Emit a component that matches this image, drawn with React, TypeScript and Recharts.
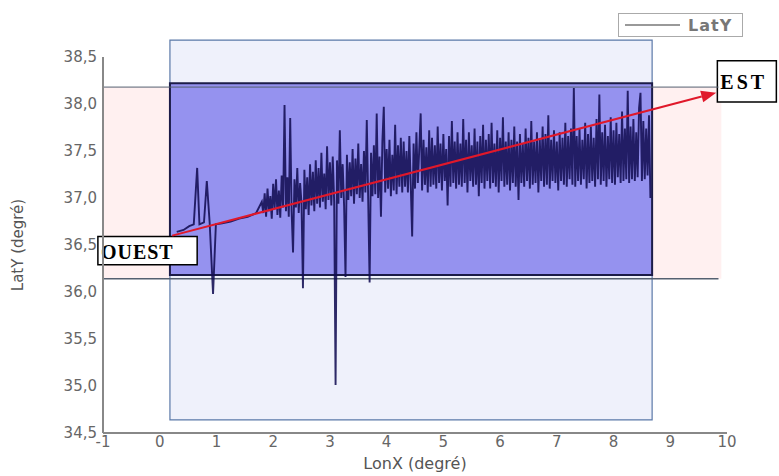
import { Line, LineChart, ReferenceArea, ReferenceLine, XAxis, YAxis } from "recharts";

const lonX = [
  0.3, 0.42, 0.52, 0.6, 0.66, 0.7, 0.78, 0.83, 0.88, 0.94, 0.99, 1.1, 1.25, 1.4, 1.55, 1.7,
  1.8, 1.825, 1.85, 1.875, 1.9, 1.925, 1.95, 1.975, 2.0, 2.025, 2.05, 2.075, 2.1, 2.125, 2.15, 2.175, 2.2, 2.225, 2.25, 2.275,
  2.3, 2.325, 2.35, 2.375, 2.4, 2.425, 2.45, 2.475, 2.5, 2.525, 2.55, 2.575, 2.6, 2.625, 2.65, 2.675, 2.7, 2.725, 2.75, 2.775,
  2.8, 2.825, 2.85, 2.875, 2.9, 2.925, 2.95, 2.975, 3.0, 3.025, 3.05, 3.075, 3.1, 3.125, 3.15, 3.175, 3.2, 3.225, 3.25, 3.275,
  3.3, 3.325, 3.35, 3.375, 3.4, 3.425, 3.45, 3.475, 3.5, 3.525, 3.55, 3.575, 3.6, 3.625, 3.65, 3.675, 3.7, 3.725, 3.75, 3.775,
  3.8, 3.825, 3.85, 3.875, 3.9, 3.925, 3.95, 3.975, 4.0, 4.025, 4.05, 4.075, 4.1, 4.125, 4.15, 4.175, 4.2, 4.225, 4.25, 4.275,
  4.3, 4.325, 4.35, 4.375, 4.4, 4.425, 4.45, 4.475, 4.5, 4.525, 4.55, 4.575, 4.6, 4.625, 4.65, 4.675, 4.7, 4.725, 4.75, 4.775,
  4.8, 4.825, 4.85, 4.875, 4.9, 4.925, 4.95, 4.975, 5.0, 5.025, 5.05, 5.075, 5.1, 5.125, 5.15, 5.175, 5.2, 5.225, 5.25, 5.275,
  5.3, 5.325, 5.35, 5.375, 5.4, 5.425, 5.45, 5.475, 5.5, 5.525, 5.55, 5.575, 5.6, 5.625, 5.65, 5.675, 5.7, 5.725, 5.75, 5.775,
  5.8, 5.825, 5.85, 5.875, 5.9, 5.925, 5.95, 5.975, 6.0, 6.025, 6.05, 6.075, 6.1, 6.125, 6.15, 6.175, 6.2, 6.225, 6.25, 6.275,
  6.3, 6.325, 6.35, 6.375, 6.4, 6.425, 6.45, 6.475, 6.5, 6.525, 6.55, 6.575, 6.6, 6.625, 6.65, 6.675, 6.7, 6.725, 6.75, 6.775,
  6.8, 6.825, 6.85, 6.875, 6.9, 6.925, 6.95, 6.975, 7.0, 7.025, 7.05, 7.075, 7.1, 7.125, 7.15, 7.175, 7.2, 7.225, 7.25, 7.275,
  7.3, 7.325, 7.35, 7.375, 7.4, 7.425, 7.45, 7.475, 7.5, 7.525, 7.55, 7.575, 7.6, 7.625, 7.65, 7.675, 7.7, 7.725, 7.75, 7.775,
  7.8, 7.825, 7.85, 7.875, 7.9, 7.925, 7.95, 7.975, 8.0, 8.025, 8.05, 8.075, 8.1, 8.125, 8.15, 8.175, 8.2, 8.225, 8.25, 8.275,
  8.3, 8.325, 8.35, 8.375, 8.4, 8.425, 8.45, 8.475, 8.5, 8.525, 8.55, 8.575, 8.6, 8.625, 8.65,
];

const latY = [
  36.64, 36.66, 36.7, 36.72, 37.32, 36.72, 36.74, 37.18, 36.74, 35.98, 36.72, 36.73, 36.75, 36.78, 36.8, 36.84,
  36.96, 36.84, 37.05, 36.8, 37.1, 36.86, 37.02, 36.78, 37.15, 36.88, 37.2, 36.82, 37.08, 36.79, 37.24, 36.9, 37.99, 36.86, 37.22, 36.8,
  37.85, 36.86, 36.42, 37.2, 36.9, 37.32, 36.84, 37.16, 36.94, 36.04, 37.3, 36.88, 37.22, 36.82, 37.36, 36.92, 37.28, 36.86, 37.4, 36.94,
  37.32, 36.9, 37.48, 36.96, 37.26, 36.88, 37.55, 36.98, 37.38, 36.92, 37.44, 36.96, 35.01, 37.4, 36.94, 37.72, 37.0, 37.36, 36.92, 36.16,
  37.46, 36.98, 37.38, 37.02, 37.52, 36.94, 37.42, 37.04, 37.58, 37.0, 37.36, 36.96, 37.5, 37.06, 37.83, 36.98, 36.1, 37.48, 37.02, 37.56,
  37.04, 37.9, 37.0, 37.44, 36.8, 37.6, 37.97, 37.06, 37.52, 37.1, 37.62, 37.02, 37.46, 37.08, 37.78, 37.04, 37.56, 37.12, 37.64, 37.06,
  37.6, 37.12, 37.5, 37.06, 37.66, 37.14, 36.59, 37.58, 37.1, 37.7, 37.16, 37.52, 37.9, 37.08, 37.62, 37.14, 37.54, 37.06, 37.72, 37.12,
  37.64, 37.14, 37.56, 37.1, 37.76, 37.16, 37.58, 37.08, 37.68, 37.18, 37.52, 36.92, 37.66, 37.12, 37.82, 37.16, 37.6, 37.1, 37.7, 37.14,
  37.58, 37.12, 37.84, 37.16, 37.62, 37.06, 37.7, 37.18, 37.56, 37.12, 37.74, 37.14, 37.6, 37.02, 37.66, 37.16, 37.78, 37.1, 37.62, 37.18,
  37.68, 37.1, 37.8, 37.16, 37.58, 37.12, 37.72, 37.06, 37.64, 37.18, 37.86, 37.12, 37.6, 37.14, 37.7, 37.08, 37.62, 37.16, 37.76, 37.12,
  37.6, 36.98, 37.68, 37.16, 37.58, 37.12, 37.74, 37.18, 37.64, 37.1, 37.82, 37.14, 37.6, 37.16, 37.7, 37.06, 37.62, 37.18, 37.76, 37.12,
  37.68, 37.14, 37.88, 37.1, 37.62, 37.18, 37.72, 37.16, 37.6, 37.08, 37.7, 37.18, 37.64, 37.14, 37.8, 37.12, 37.66, 37.2, 37.74, 37.14,
  38.17, 37.12, 37.66, 37.18, 37.74, 37.14, 37.62, 37.2, 37.8, 37.1, 37.68, 37.16, 37.76, 37.18, 37.64, 37.12, 37.84, 37.2, 38.1, 37.14,
  37.7, 37.18, 37.78, 37.12, 37.66, 37.2, 37.86, 37.16, 37.72, 37.14, 37.8, 37.22, 37.68, 37.16, 37.92, 37.18, 37.74, 37.2, 38.14, 37.16,
  37.76, 37.2, 37.84, 37.18, 37.7, 37.22, 37.96, 38.12, 37.18, 37.82, 37.2, 37.74, 37.24, 37.88, 37.0,
];

const xTicks = [-1, 0, 1, 2, 3, 4, 5, 6, 7, 8, 9, 10];
const yTicks = [34.5, 35, 35.5, 36, 36.5, 37, 37.5, 38, 38.5];

// zones and annotations (data units)
const pinkZone = { x1: -1, x2: 9.9, y1: 36.14, y2: 38.18 };
const outerBox = { x1: 0.18, x2: 8.68, y1: 34.64, y2: 38.68 };
const innerBox = { x1: 0.18, x2: 8.68, y1: 36.18, y2: 38.22 };
const ouestBox = { x1: -1.09, x2: 0.66, y1: 36.29, y2: 36.59 };
const estBox = { x1: 9.83, x2: 10.87, y1: 38.02, y2: 38.46 };
const arrowFrom = { x: 0.22, y: 36.6 };
const arrowTo = { x: 9.81, y: 38.12 };

const data = lonX.map((x, i) => ({ lonX: x, latY: latY[i] }));

const tickStyle = { fontSize: 15, fill: "#666", fontFamily: "DejaVu Sans" };

function Arrow(props: any) {
  const { x1, y1, x2, y2 } = props;
  const ang = Math.atan2(y2 - y1, x2 - x1);
  const len = 15;
  const w = 6;
  const bx = x2 - len * Math.cos(ang);
  const by = y2 - len * Math.sin(ang);
  const px = -Math.sin(ang) * w;
  const py = Math.cos(ang) * w;
  return (
    <g>
      <line x1={x1} y1={y1} x2={bx} y2={by} stroke="#e0182a" strokeWidth={2} />
      <polygon
        points={`${x2},${y2} ${bx + px},${by + py} ${bx - px},${by - py}`}
        fill="#e0182a"
      />
    </g>
  );
}

function boxLabel(text: string, font: any) {
  return ({ viewBox }: any) => (
    <text
      x={viewBox.x + 3}
      y={viewBox.y + viewBox.height / 2 + 1}
      dominantBaseline="central"
      fill="#000"
      {...font}
    >
      {text}
    </text>
  );
}

function LegendBox() {
  return (
    <div
      style={{
        position: "absolute",
        left: 618,
        top: 13,
        width: 123,
        height: 22,
        border: "1px solid #aaa",
        display: "flex",
        alignItems: "center",
        background: "#fff",
      }}
    >
      <div style={{ width: 55, height: 2, background: "#999", marginLeft: 6, marginRight: 8 }} />
      <span style={{ fontFamily: "DejaVu Sans", fontWeight: "bold", fontSize: 16, color: "#777", letterSpacing: 1 }}>
        LatY
      </span>
    </div>
  );
}

export default function App() {
  return (
    <div style={{ position: "fixed", left: 0, top: 0, width: 779, height: 476, background: "#fff" }}>
      <LineChart width={779} height={476} data={data} margin={{ top: 57, right: 52, left: 0, bottom: 0 }}>
        <XAxis
          type="number"
          dataKey="lonX"
          domain={[-1, 10]}
          ticks={xTicks}
          allowDataOverflow
          height={43}
          tickLine={false}
          axisLine={{ stroke: "#888", strokeWidth: 2 }}
          tick={{ ...tickStyle, dy: -3 }}
          tickMargin={0}
          label={{ value: "LonX (degré)", position: "insideBottom", offset: 7, style: { fontSize: 16, fill: "#555", fontFamily: "DejaVu Sans" } }}
        />
        <YAxis
          type="number"
          domain={[34.5, 38.5]}
          ticks={yTicks}
          allowDataOverflow
          width={103}
          tickLine={false}
          axisLine={{ stroke: "#888", strokeWidth: 2 }}
          tick={tickStyle}
          tickMargin={0}
          tickFormatter={(v: number) => v.toFixed(1).replace(".", ",")}
          label={{ value: "LatY (degré)", angle: -90, position: "insideLeft", offset: 18, style: { fontSize: 15, fill: "#555", fontFamily: "DejaVu Sans", textAnchor: "middle" } }}
        />
        <ReferenceArea {...pinkZone} fill="#fff0f0" fillOpacity={1} stroke="none" ifOverflow="visible" />
        <ReferenceLine segment={[{ x: pinkZone.x1, y: pinkZone.y2 }, { x: pinkZone.x2 - 0.05, y: pinkZone.y2 }]} stroke="#556070" strokeWidth={1} ifOverflow="visible" />
        <ReferenceLine segment={[{ x: pinkZone.x1, y: pinkZone.y1 }, { x: pinkZone.x2 - 0.05, y: pinkZone.y1 }]} stroke="#556070" strokeWidth={1.5} ifOverflow="visible" />
        <ReferenceArea {...outerBox} fill="#eff1fb" fillOpacity={1} stroke="#5a78a8" strokeWidth={1.2} ifOverflow="visible" />
        <ReferenceArea {...innerBox} fill="#9592ef" fillOpacity={1} stroke="#1c1c48" strokeWidth={2} ifOverflow="visible" />
        <Line
          type="linear"
          dataKey="latY"
          stroke="#120c52"
          strokeOpacity={0.88}
          strokeWidth={1.9}
          dot={false}
          isAnimationActive={false}
        />
        <ReferenceLine segment={[arrowFrom, arrowTo]} ifOverflow="visible" shape={Arrow} />
        <ReferenceArea
          {...ouestBox}
          fill="#fff"
          fillOpacity={1}
          stroke="#000"
          strokeWidth={1.5}
          ifOverflow="visible"
          label={boxLabel("OUEST", { fontFamily: "Liberation Serif", fontWeight: "bold", fontSize: 20, letterSpacing: 1 })}
        />
        <ReferenceArea
          {...estBox}
          fill="#fff"
          fillOpacity={1}
          stroke="#000"
          strokeWidth={1.5}
          ifOverflow="visible"
          label={boxLabel("EST", { fontFamily: "Liberation Serif", fontWeight: "bold", fontSize: 20, letterSpacing: 3 })}
        />
      </LineChart>
      <LegendBox />
    </div>
  );
}
